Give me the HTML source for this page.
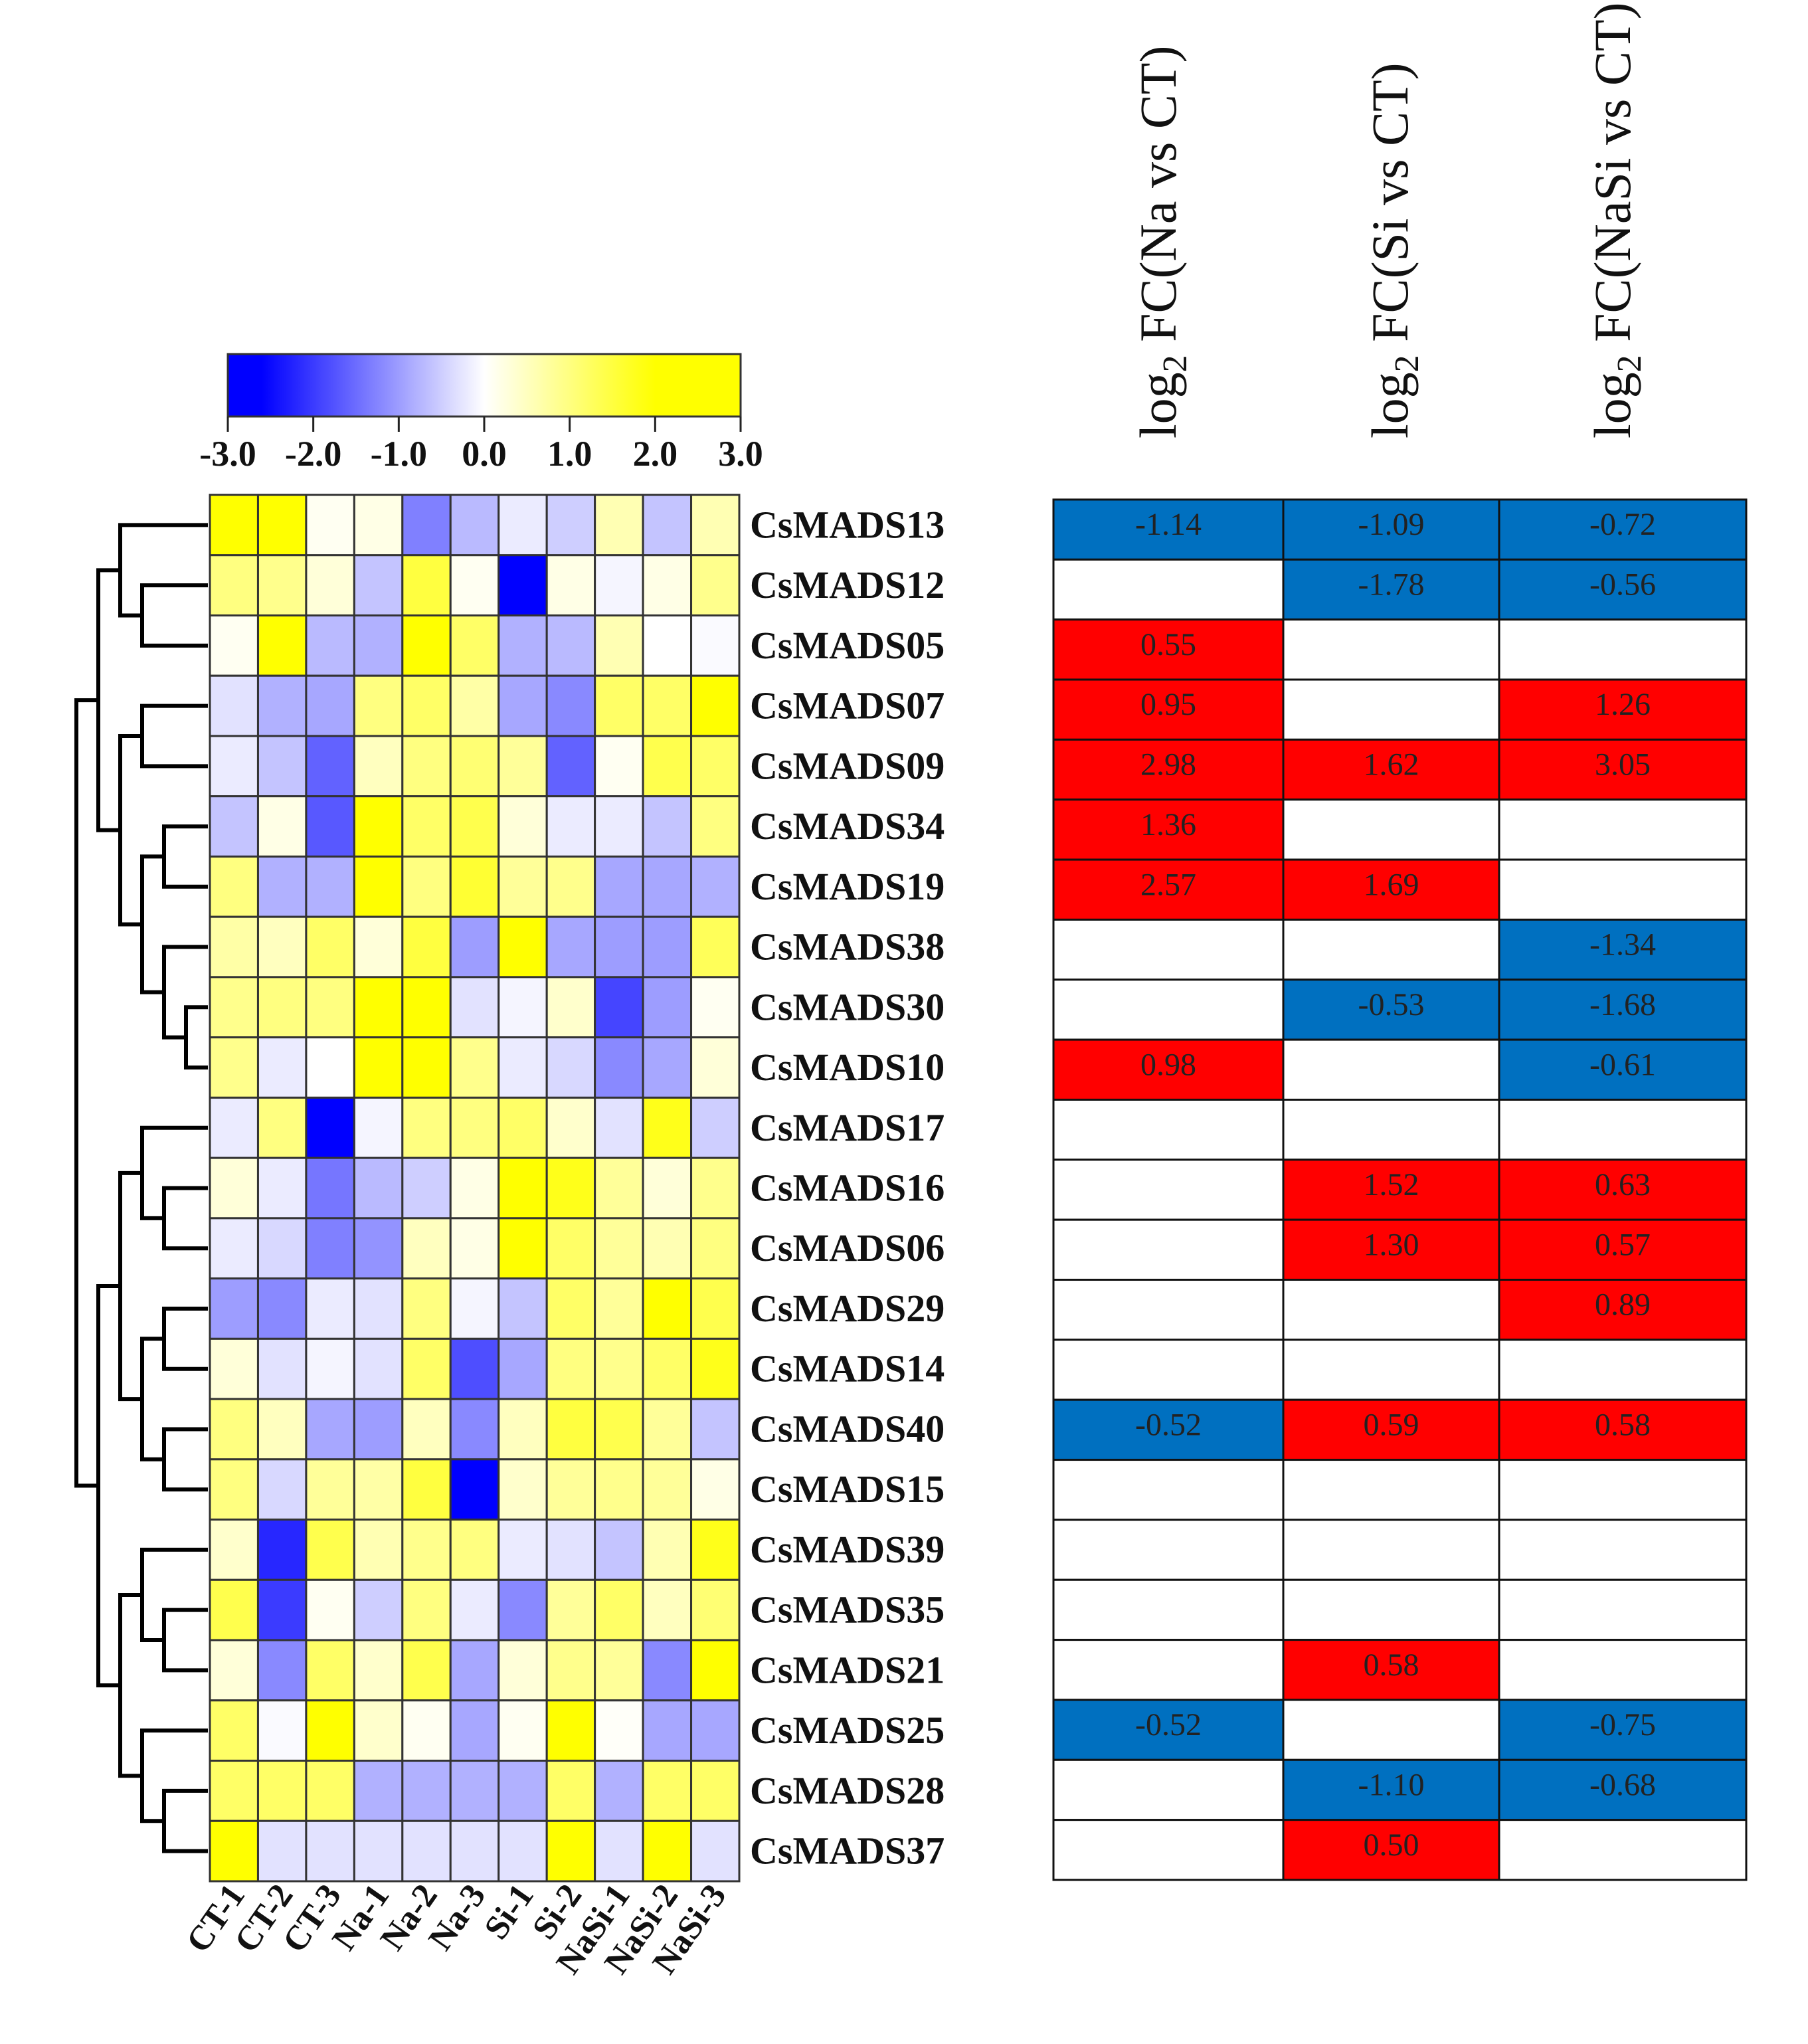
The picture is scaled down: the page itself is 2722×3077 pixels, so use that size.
<!DOCTYPE html>
<html><head><meta charset="utf-8"><style>
html,body{margin:0;padding:0;background:#fff;}
svg{display:block;font-family:"Liberation Serif",serif;}
</style></head><body>
<svg id="chart" width="2722" height="3077" viewBox="0 0 2722 3077" xmlns="http://www.w3.org/2000/svg">
<g id="colorbar"></g>
<g id="dendro"></g>
<g id="heat"></g>
<g id="rowlabels"></g>
<g id="collabels"></g>
<g id="table"></g>
</svg>
<script>
const genes = ["CsMADS13","CsMADS12","CsMADS05","CsMADS07","CsMADS09","CsMADS34","CsMADS19","CsMADS38","CsMADS30","CsMADS10","CsMADS17","CsMADS16","CsMADS06","CsMADS29","CsMADS14","CsMADS40","CsMADS15","CsMADS39","CsMADS35","CsMADS21","CsMADS25","CsMADS28","CsMADS37"];
const samples = ["CT-1","CT-2","CT-3","Na-1","Na-2","Na-3","Si-1","Si-2","NaSi-1","NaSi-2","NaSi-3"];
const legendTicks = [-3,-2,-1,0,1,2,3];
const tickLabels = ["-3.0","-2.0","-1.0","0.0","1.0","2.0","3.0"];
const expr = [
[2.5,2.5,0.1,0.2,-1.3,-0.7,-0.2,-0.5,0.6,-0.6,0.6],
[1.0,0.9,0.3,-0.6,1.5,0.1,-3.0,0.2,-0.1,0.2,0.9],
[0.1,2.5,-0.7,-0.8,2.5,1.2,-0.8,-0.7,0.6,0.0,-0.05],
[-0.3,-0.8,-0.9,1.0,1.2,0.7,-0.9,-1.2,1.2,1.2,2.2],
[-0.2,-0.6,-1.6,0.5,1.0,1.1,0.8,-1.6,0.1,1.4,1.2],
[-0.6,0.2,-1.7,2.5,1.2,1.4,0.3,-0.2,-0.2,-0.6,1.0],
[1.0,-0.8,-0.8,2.5,1.0,1.6,0.8,0.9,-0.9,-0.9,-0.8],
[0.7,0.5,1.2,0.3,1.5,-1.0,2.0,-0.9,-1.0,-1.0,1.3],
[0.9,1.0,1.0,2.3,2.3,-0.3,-0.1,0.4,-1.9,-1.0,0.1],
[0.9,-0.2,0.0,2.5,2.5,0.9,-0.2,-0.4,-1.2,-0.9,0.3],
[-0.2,1.0,-3.0,-0.1,1.0,1.0,1.2,0.4,-0.3,1.8,-0.5],
[0.3,-0.2,-1.4,-0.7,-0.5,0.2,2.5,1.8,0.8,0.3,0.9],
[-0.2,-0.4,-1.3,-1.1,0.5,0.2,2.5,1.2,0.8,0.6,1.0],
[-1.0,-1.2,-0.2,-0.3,1.0,-0.1,-0.6,1.2,0.8,2.0,1.4],
[0.3,-0.3,-0.1,-0.3,1.2,-1.8,-0.9,1.0,0.9,1.2,1.8],
[1.0,0.5,-0.9,-1.0,0.5,-1.2,0.5,1.5,1.4,0.8,-0.6],
[1.0,-0.4,0.8,0.7,1.5,-3.0,0.4,0.8,0.9,0.8,0.2],
[0.4,-2.2,1.4,0.6,0.9,1.0,-0.2,-0.3,-0.6,0.6,1.8],
[1.4,-2.0,0.1,-0.5,1.0,-0.2,-1.2,0.8,1.2,0.5,1.1],
[0.3,-1.2,1.2,0.4,1.4,-0.9,0.3,0.9,0.8,-1.2,2.3],
[1.2,-0.05,2.5,0.4,0.1,-0.9,0.1,2.5,0.05,-0.9,-0.9],
[1.2,1.2,1.2,-0.8,-0.8,-0.8,-0.8,1.2,-0.8,1.2,1.2],
[2.5,-0.3,-0.3,-0.3,-0.3,-0.3,-0.3,2.5,-0.3,2.5,-0.3]
];
const fcHeaders = ["Na vs CT","Si vs CT","NaSi vs CT"];
const fcNa   = [-1.14,null,0.55,0.95,2.98,1.36,2.57,null,null,0.98,null,null,null,null,null,-0.52,null,null,null,null,-0.52,null,null];
const fcSi   = [-1.09,-1.78,null,null,1.62,null,1.69,null,-0.53,null,null,1.52,1.30,null,null,0.59,null,null,null,0.58,null,-1.10,0.50];
const fcNaSi = [-0.72,-0.56,null,1.26,3.05,null,null,-1.34,-1.68,-0.61,null,0.63,0.57,0.89,null,0.58,null,null,null,null,-0.75,-0.68,null];
const merges = [
[1,2,3],[0,"n0",4],[3,4,3],[5,6,2],[8,9,1],[7,"n4",2],["n3","n5",3],["n2","n6",4],["n1","n7",5],
[11,12,2],[10,"n9",3],[13,14,2],[15,16,2],["n11","n12",3],["n10","n13",4],
[18,19,2],[17,"n15",3],[21,22,2],[20,"n17",3],["n16","n18",4],["n14","n19",5],["n8","n20",6]
];

const NS="http://www.w3.org/2000/svg";
function el(tag,attrs,parent){const e=document.createElementNS(NS,tag);for(const k in attrs)e.setAttribute(k,attrs[k]);parent.appendChild(e);return e;}
function lerp(a,b,t){return Math.round(a+(b-a)*t);}
function colorOf(v){
  if(v<=0){let t=(v+2.6)/2.6; t=Math.max(0,Math.min(1,t)); return `rgb(${lerp(0,255,t)},${lerp(0,255,t)},255)`;}
  let t=Math.min(1,v/2.0); return `rgb(255,255,${lerp(255,0,t)})`;
}
const HX0=316,HX1=1113,HY0=745,HY1=2832;
const cw=(HX1-HX0)/samples.length, rh=(HY1-HY0)/genes.length;
const xCol=i=>HX0+i*cw, yRow=i=>HY0+i*rh;

const cb=document.getElementById('colorbar');
const CBX0=343,CBX1=1115,CBY0=533,CBY1=627;
const xLeg=v=>CBX0+(v+3)/6*(CBX1-CBX0);
const defs=el('defs',{},cb);
const grad=el('linearGradient',{id:'cbg',x1:'0',x2:'1',y1:'0',y2:'0'},defs);
for(let k=0;k<=60;k++){const v=-3+k*0.1;el('stop',{offset:(k/60).toFixed(4),'stop-color':colorOf(v)},grad);}
const cbr=el('rect',{x:CBX0,y:CBY0,width:CBX1-CBX0,height:CBY1-CBY0,fill:'url(#cbg)',stroke:'#333','stroke-width':3},cb);


legendTicks.forEach((v,i)=>{
  const x=xLeg(v);
  const t=el('line',{x1:x,x2:x,y1:CBY1,y2:650,stroke:'#222','stroke-width':3},cb);
  
  
  const tx=el('text',{x:x,y:701,'text-anchor':'middle','font-size':54,'font-weight':'bold',fill:'#111'},cb);
  tx.textContent=tickLabels[i];
  
  
});

const hm=document.getElementById('heat');
expr.forEach((row,r)=>row.forEach((v,c)=>{
  const rc=el('rect',{x:xCol(c),y:yRow(r),width:cw,height:rh,fill:colorOf(v),stroke:'#333','stroke-width':3},hm);
  
  
}));

const rl=document.getElementById('rowlabels');
genes.forEach((g,r)=>{
  const t=el('text',{x:1129,y:yRow(r)+rh/2+19,'font-size':58,'font-weight':'bold',fill:'#111'},rl);
  t.textContent=g;
  
  
});

const cl=document.getElementById('collabels');
samples.forEach((s,c)=>{
  const x=xCol(c)+cw/2+18, y=HY1+20;
  const t=el('text',{x:x,y:y,'text-anchor':'end','font-size':52,'font-weight':'bold',fill:'#111',transform:`rotate(-55 ${x} ${y})`},cl);
  t.textContent=s;
  
  
});

const dg=document.getElementById('dendro');
const xH=h=>313-h*33;
const nodes=[];
function pos(ref){ if(typeof ref==='number') return {y:yRow(ref)+rh/2,x:313}; return nodes[+ref.slice(1)]; }
merges.forEach(m=>{
  const a=pos(m[0]),b=pos(m[1]),x=xH(m[2]);
  const p=el('path',{d:`M${a.x},${a.y}H${x}V${b.y}H${b.x}`,fill:'none',stroke:'#000','stroke-width':6},dg);
  
  
  nodes.push({x:x,y:(a.y+b.y)/2});
});

const tb=document.getElementById('table');
const TX=[1586,1932,2257,2629], TY0=752, TY1=2830;
const trh=(TY1-TY0)/genes.length;
const tyRow=i=>TY0+i*trh;
const hdrX=[1744,2093,2428];
[fcNa,fcSi,fcNaSi].forEach((col,c)=>{
  const hx=hdrX[c], hy=660;
  const h=el('text',{x:hx,y:hy,'font-size':78,fill:'#111',transform:`rotate(-90 ${hx} ${hy})`,dy:26},tb);
  
  
  const t1=el('tspan',{},h); t1.textContent='log';
  const t2=el('tspan',{dy:16,'font-size':52},h); t2.textContent='2';
  const t3=el('tspan',{dy:-16},h); t3.textContent=' FC('+fcHeaders[c]+')';
  col.forEach((v,r)=>{
    const fill=v===null?'#fff':(v>0?'#ff0000':'#0070c0');
    const rc=el('rect',{x:TX[c],y:tyRow(r),width:TX[c+1]-TX[c],height:trh,fill:fill,stroke:'#111','stroke-width':3},tb);
    
    
    if(v!==null){
      const t=el('text',{x:(TX[c]+TX[c+1])/2,y:tyRow(r)+trh/2+8,'text-anchor':'middle','font-size':48,fill:'#222'},tb);
      t.textContent=v.toFixed(2);
      
      
    }
  });
});
</script>
</body></html>
